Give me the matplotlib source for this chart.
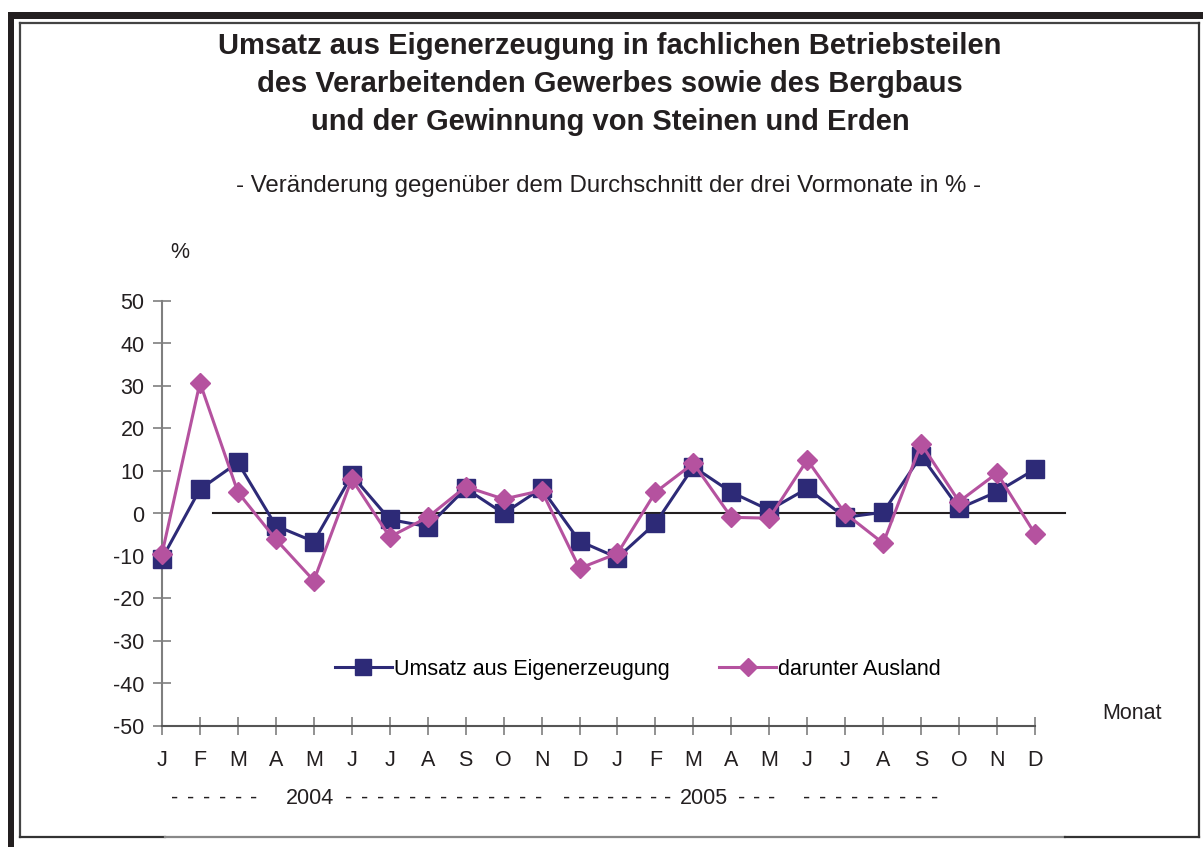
import matplotlib

matplotlib.use("Agg")
import matplotlib.pyplot as plt
from matplotlib.lines import Line2D
from matplotlib.patches import Rectangle

plt.rcParams["font.family"] = ["Liberation Sans", "DejaVu Sans"]

months = ["J", "F", "M", "A", "M", "J", "J", "A", "S", "O", "N", "D",
          "J", "F", "M", "A", "M", "J", "J", "A", "S", "O", "N", "D"]
umsatz = [-10.6, 5.7, 12.0, -2.9, -6.6, 9.0, -1.4, -3.1, 5.9, 0.0, 5.9, -6.5,
          -10.4, -2.3, 11.0, 5.0, 0.8, 5.9, -0.9, 0.3, 13.6, 1.2, 5.1, 10.4]
ausland = [-9.5, 30.8, 5.0, -6.1, -15.8, 8.1, -5.5, -0.9, 6.3, 3.4, 5.4, -12.9,
           -9.4, 5.0, 11.8, -0.9, -1.1, 12.6, 0.0, -7.0, 16.4, 2.8, 9.5, -4.8]
yticks = [50, 40, 30, 20, 10, 0, -10, -20, -30, -40, -50]
years = ["2004", "2005"]

W, H = 1203, 847
NAVY = "#2d2a77"
PINK = "#b5529f"
GREY = "#7f7f7f"
INK = "#231f20"
FS = 15.5


def fx(x):
    return x / W


def fy(y):
    return 1 - y / H


fig = plt.figure(figsize=(W / 100, H / 100), dpi=100)
fig.patch.set_facecolor("white")

# frame: thick black bars top/left, thin inner box
fig.add_artist(Rectangle((fx(8), fy(19)), fx(1203) - fx(8), fy(12) - fy(19),
                         transform=fig.transFigure, color=INK, lw=0))
fig.add_artist(Rectangle((fx(8), fy(847)), fx(14) - fx(8), fy(12) - fy(847),
                         transform=fig.transFigure, color=INK, lw=0))
for xs, ys, c in [([19.5, 1199], [23.5, 23.5], "#444444"),
                  ([19.5, 19.5], [23.5, 836.5], "#444444"),
                  ([1199, 1199], [23.5, 836.5], "#333333"),
                  ([19.5, 165], [836.5, 836.5], "#333333"),
                  ([165, 1065], [836.5, 836.5], "#888888"),
                  ([1065, 1199], [836.5, 836.5], "#333333")]:
    fig.add_artist(Line2D([fx(v) for v in xs], [fy(v) for v in ys],
                          transform=fig.transFigure, color=c, lw=1.6))

ax = fig.add_axes([fx(162), fy(726), fx(1035) - fx(162), fy(301) - fy(726)])
x = list(range(len(months)))

ax.plot([1.34, 23.79], [0, 0], color=INK, lw=1.5, clip_on=False, zorder=1)
ax.plot(x, umsatz, color=NAVY, lw=2.2, marker="s", ms=12.5, mec=NAVY,
        mfc=NAVY, clip_on=False, zorder=3, label="Umsatz aus Eigenerzeugung")
ax.plot(x, ausland, color=PINK, lw=2.2, marker="D", ms=10.5, mec=PINK,
        mfc=PINK, clip_on=False, zorder=4, label="darunter Ausland")

ax.set_xlim(0, 23)
ax.set_ylim(-50, 50)
ax.set_xticks(x)
ax.set_xticklabels(months)
ax.set_yticks(yticks)
ax.set_yticklabels([str(v) for v in yticks])

for s in ["top", "right"]:
    ax.spines[s].set_visible(False)
ax.spines["left"].set_color(GREY)
ax.spines["left"].set_linewidth(1.5)
ax.spines["bottom"].set_color("#555555")
ax.spines["bottom"].set_linewidth(1.5)
ax.tick_params(axis="both", direction="inout", length=13, width=1.2,
               colors=GREY, labelcolor=INK, labelsize=FS)
ax.tick_params(axis="x", pad=11)
ax.tick_params(axis="y", pad=6)
ax.set_facecolor("none")

ax.legend(loc="center", bbox_to_anchor=(0.545, 0.134), ncol=2, frameon=False,
          fontsize=FS, handlelength=2.65, handletextpad=0.1, columnspacing=2.3,
          markerscale=0.9)

title = ["Umsatz aus Eigenerzeugung in fachlichen Betriebsteilen",
         "des Verarbeitenden Gewerbes sowie des Bergbaus",
         "und der Gewinnung von Steinen und Erden"]
for i, line in enumerate(title):
    fig.text(fx(610), fy(46 + 38 * i), line, ha="center", va="center",
             fontsize=21, fontweight="bold", color=INK)
fig.text(fx(609), fy(186), "- Veränderung gegenüber dem Durchschnitt der drei Vormonate in % -",
         ha="center", va="center", fontsize=17.3, color=INK)
fig.text(fx(180), fy(252), "%", ha="center", va="center", fontsize=FS, color=INK)
fig.text(fx(1132), fy(713), "Monat", ha="center", va="center", fontsize=FS, color=INK)

# year row: dashed guide with year labels (start px, count, step px)
dash_groups = [(175, 6, 15.8), (349, 13, 15.8), (567, 8, 14.4), (742, 3, 15.0), (807, 9, 16.0)]
for start, n, step in dash_groups:
    for k in range(n):
        fig.text(fx(start + k * step), fy(798), "-", ha="center", va="center",
                 fontsize=FS, color=INK)
fig.text(fx(310), fy(798), years[0], ha="center", va="center", fontsize=FS, color=INK)
fig.text(fx(704), fy(798), years[1], ha="center", va="center", fontsize=FS, color=INK)

fig.savefig("out.png", dpi=100)
